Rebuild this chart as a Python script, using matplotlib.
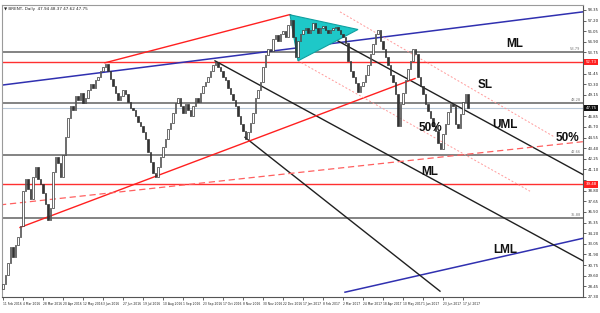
import matplotlib
matplotlib.use("Agg")
import matplotlib.pyplot as plt
import matplotlib.transforms as mtransforms
from matplotlib.patches import Polygon

# ---- data (one candle per 2 trading days, BRENT daily) ----
closes = [
    28.67, 29.73, 31.00, 32.70, 31.64, 32.91, 33.76, 35.03, 38.74, 40.01,
    38.95, 37.89, 40.33, 41.39, 40.01, 39.48, 38.53, 37.36, 35.67, 36.94,
    40.86, 42.45, 41.81, 40.33, 42.66, 44.57, 46.69, 47.96, 47.54, 49.02,
    48.60, 49.34, 48.28, 48.81, 49.66, 50.29, 49.87, 50.72, 51.14, 51.78,
    52.20, 52.52, 51.78, 50.93, 50.08, 49.34, 48.60, 49.02, 49.66, 49.23,
    48.39, 47.75, 47.54, 46.90, 46.27, 45.84, 45.10, 44.36, 42.98, 41.92,
    40.75, 40.33, 41.39, 42.45, 43.51, 44.36, 45.42, 46.16, 47.22, 48.28,
    48.81, 47.96, 47.22, 48.17, 47.54, 46.90, 47.96, 48.81, 48.39, 49.34,
    50.08, 50.51, 51.14, 51.78, 52.41, 52.73, 52.20, 51.78, 51.14, 50.72,
    49.87, 49.23, 48.60, 47.96, 46.90, 46.05, 45.21, 44.36, 45.10, 46.16,
    47.22, 48.81, 49.66, 50.51, 52.20, 53.47, 54.11, 53.90, 55.17, 55.59,
    54.96, 55.70, 56.02, 55.38, 56.76, 57.29, 55.38, 53.26, 54.96, 55.70,
    56.23, 56.44, 55.81, 56.23, 56.97, 56.44, 55.81, 56.44, 56.65, 56.23,
    55.81, 56.23, 56.34, 56.55, 56.23, 55.70, 55.38, 54.75, 52.84, 51.78,
    51.14, 50.40, 49.45, 50.08, 50.51, 51.35, 52.41, 53.58, 54.64, 55.70,
    56.23, 54.96, 54.11, 53.26, 52.41, 51.35, 50.51, 49.23, 45.84, 48.17,
    49.34, 50.72, 51.99, 52.84, 54.11, 53.58, 51.14, 50.08, 49.23, 48.17,
    47.43, 46.69, 45.84, 45.21, 43.93, 43.30, 44.89, 46.05, 47.33, 48.17,
    47.96, 46.05, 45.63, 47.11, 48.39, 49.23, 47.75,
]
first_open = 28.20
bars_per_candle = 2

date_labels = [
    "11 Feb 2016", "4 Mar 2016", "28 Mar 2016", "20 Apr 2016", "12 May 2016",
    "3 Jun 2016", "27 Jun 2016", "19 Jul 2016", "10 Aug 2016", "1 Sep 2016",
    "23 Sep 2016", "17 Oct 2016", "8 Nov 2016", "30 Nov 2016", "22 Dec 2016",
    "17 Jan 2017", "8 Feb 2017", "2 Mar 2017", "24 Mar 2017", "18 Apr 2017",
    "10 May 2017", "1 Jun 2017", "23 Jun 2017", "17 Jul 2017",
]
bars_per_label = 16

price_ticks = [58.35, 57.20, 56.05, 54.90, 53.75, 52.60, 51.45, 50.30, 49.15,
               48.00, 46.85, 45.70, 44.55, 43.40, 42.25, 41.10, 39.95, 38.80,
               37.65, 36.50, 35.35, 34.20, 33.05, 31.90, 30.75, 29.60, 28.45,
               27.30]

# horizontal levels
gray_levels = [53.79, 48.28, 42.66, 35.88]
red_levels = [52.73, 39.48]

# trend lines: (bar, price) anchors
blue_lines = [[(-2.4, 50.19), (464, 58.14)],
              [(273.6, 27.82), (464, 33.65)]]
black_lines = [[(229.6, 57.82), (464, 40.54)],
               [(169.6, 52.84), (464, 31.21)],
               [(193.6, 44.57), (349.6, 27.93)]]
red_lines = [[(81.6, 52.63), (228.8, 57.82)],
             [(13.6, 34.82), (329.6, 50.93)]]
red_dashed = [(-2.4, 37.26), (464, 44.10)]
pink_dotted = [[(269.6, 58.14), (441.6, 44.57)],
               [(236.0, 52.84), (421.6, 38.74)]]
triangle = [(229.6, 57.82), (236.0, 52.84), (284.0, 56.23)]

annotations = [("ML", 409.6, 54.64), ("SL", 385.6, 50.19), ("UML", 401.6, 45.95),
               ("50%", 341.6, 45.63), ("50%", 451.5, 44.45), ("ML", 341.6, 40.86),
               ("LML", 401.6, 32.38)]

# ---- figure ----
fig = plt.figure(figsize=(6.0, 3.13), dpi=100)
ax = fig.add_axes([2 / 600, 16 / 313, 581 / 600, 292 / 313])
ax.set_xlim(-0.8, 464)
ax.set_ylim(27.93, 58.88)

# horizontal levels
for lv in gray_levels:
    ax.axhline(lv, color="#6e6e6e", lw=1.2, zorder=1)
    ax.text(462, lv + 0.08, f"{lv:.2f}", fontsize=2.6, color="#777777",
            ha="right", va="bottom")
for lv in red_levels:
    ax.axhline(lv, color="#ff3030", lw=1.0, zorder=1)

# current price line
last = closes[-1]
ax.axhline(last, color="#b8c8d8", lw=0.8, zorder=1)

# trend lines
for (p0, p1) in blue_lines:
    ax.plot([p0[0], p1[0]], [p0[1], p1[1]], color="#3030b0", lw=1.1, zorder=2)
for (p0, p1) in black_lines:
    ax.plot([p0[0], p1[0]], [p0[1], p1[1]], color="#202020", lw=1.0, zorder=2)
for (p0, p1) in red_lines:
    ax.plot([p0[0], p1[0]], [p0[1], p1[1]], color="#ff2020", lw=1.0, zorder=2)
ax.plot([red_dashed[0][0], red_dashed[1][0]], [red_dashed[0][1], red_dashed[1][1]],
        color="#ff6060", lw=0.9, ls=(0, (5, 3)), zorder=2)
for (p0, p1) in pink_dotted:
    ax.plot([p0[0], p1[0]], [p0[1], p1[1]], color="#ff9a9a", lw=0.7,
            ls=(0, (2, 2)), zorder=2)

# triangle
ax.add_patch(Polygon(triangle, closed=True, facecolor="#1ec8c8",
                     edgecolor="#10a0a0", lw=0.8, zorder=3))

# candles
prev = first_open
for i, c in enumerate(closes):
    x = i * bars_per_candle
    lo, hi = min(prev, c), max(prev, c)
    h = max(hi - lo, 0.08)
    if c >= prev:
        ax.bar(x, h, bottom=lo, width=1.0, facecolor="white",
               edgecolor="#333333", linewidth=0.5, zorder=4)
    else:
        ax.bar(x, h, bottom=lo, width=1.0, facecolor="#333333",
               edgecolor="#333333", linewidth=0.5, zorder=4)
    prev = c

# annotations
for txt, x, y in annotations:
    ax.text(x, y, txt, fontsize=8.5, fontweight="bold", family="Liberation Sans",
            ha="center", va="center", color="#111111", zorder=6)

# axis styling
last = closes[-1]
box_levels = red_levels + [last]
ax.yaxis.tick_right()
ax.set_yticks(price_ticks)
ax.set_yticklabels(["" if any(abs(t - b) < 0.6 for b in box_levels) else f"{t:.2f}"
                    for t in price_ticks], fontsize=2.8)
ax.tick_params(axis="y", length=2, width=0.5, pad=1.5, colors="#222222")
ax.set_xticks([k * bars_per_label for k in range(len(date_labels))])
ax.set_xticklabels(date_labels, fontsize=2.15, ha="left")
ax.tick_params(axis="x", length=2, width=0.5, pad=1.5, colors="#222222")
for s in ["left", "top"]:
    ax.spines[s].set_color("#9a9a9a")
    ax.spines[s].set_linewidth(0.8)
ax.spines["right"].set_color("#555555")
ax.spines["bottom"].set_color("#555555")
ax.spines["right"].set_linewidth(0.8)
ax.spines["bottom"].set_linewidth(0.8)

# right-side price boxes
trans = mtransforms.blended_transform_factory(ax.transAxes, ax.transData)
for lv in red_levels:
    ax.text(1.004, lv, f"{lv:.2f}", transform=trans, fontsize=2.8, color="white",
            va="center", ha="left", clip_on=False, zorder=7,
            bbox=dict(boxstyle="square,pad=0.3", facecolor="#ff2020", edgecolor="none"))
ax.text(1.004, last, f"{last:.2f}", transform=trans, fontsize=2.8, color="white",
        va="center", ha="left", clip_on=False, zorder=7,
        bbox=dict(boxstyle="square,pad=0.3", facecolor="#111111", edgecolor="none"))

# header
ax.text(0.004, 0.992, "\u25bc BRENT, Daily  47.94 48.37 47.62 47.75",
        transform=ax.transAxes, fontsize=3.0, va="top", ha="left", color="#222222")

fig.savefig("out.png", dpi=100)
